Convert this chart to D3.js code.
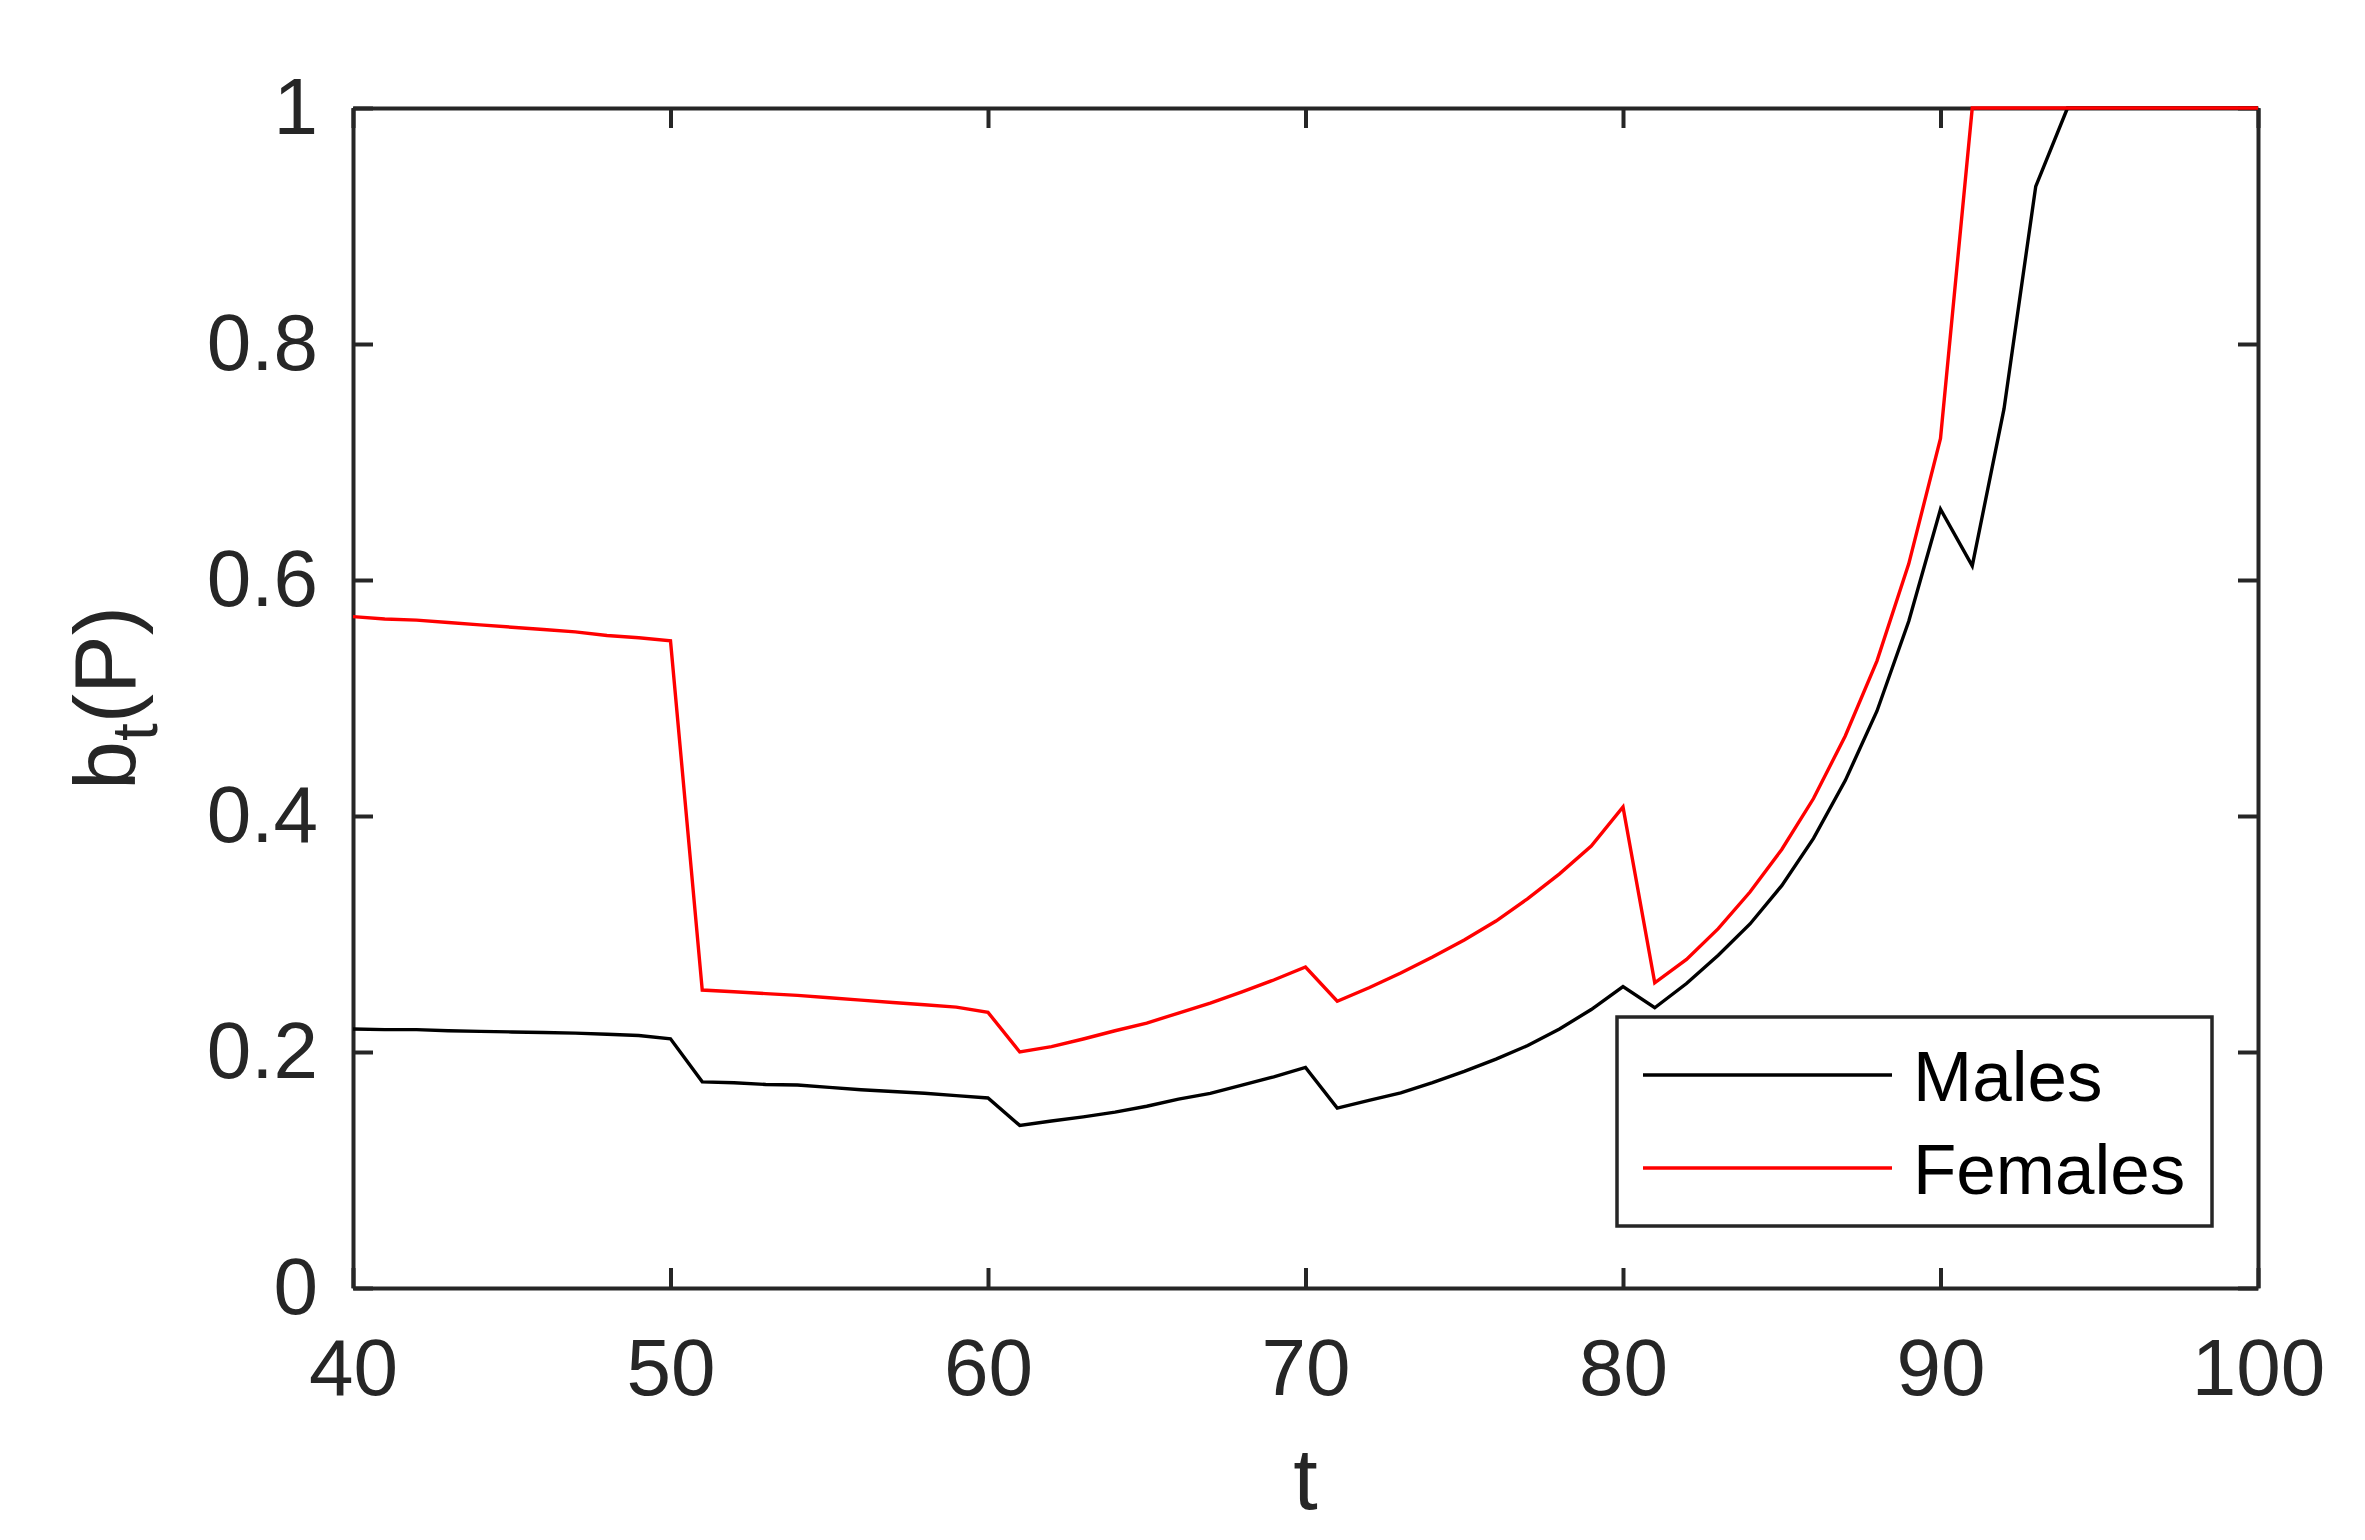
<!DOCTYPE html>
<html>
<head>
<meta charset="utf-8">
<script src="https://cdn.jsdelivr.net/npm/d3@7"></script>
<style>
  body { margin: 0; background: #fff; }
  svg { display: block; font-family: "Liberation Sans", Arial, Helvetica, sans-serif; }
</style>
</head>
<body>
<svg id="chart" width="2365" height="1540"></svg>
<script>
// ages t = 40..100
var ages = [40,41,42,43,44,45,46,47,48,49,50,51,52,53,54,55,56,57,58,59,60,
            61,62,63,64,65,66,67,68,69,70,71,72,73,74,75,76,77,78,79,80,
            81,82,83,84,85,86,87,88,89,90,91,92,93,94,95,96,97,98,99,100];

var males = [0.2195,0.219,0.219,0.218,0.2175,0.217,0.2165,0.216,0.215,0.214,0.2112,
             0.1747,0.174,0.1725,0.172,0.170,0.168,0.1665,0.165,0.163,0.161,
             0.1378,0.1415,0.145,0.149,0.154,0.160,0.165,0.172,0.179,0.1869,
             0.1525,0.159,0.1654,0.174,0.1836,0.194,0.2055,0.2195,0.236,0.2554,
             0.2375,0.258,0.282,0.3085,0.341,0.381,0.430,0.489,0.565,0.660,
             0.612,0.745,0.9336,1,1,1,1,1,1,1];

var females = [0.569,0.567,0.566,0.564,0.562,0.560,0.558,0.556,0.553,0.551,0.5485,
               0.2525,0.251,0.2495,0.248,0.246,0.244,0.242,0.240,0.238,0.2336,
               0.200,0.2045,0.211,0.218,0.2245,0.233,0.2415,0.251,0.261,0.272,
               0.243,0.2545,0.267,0.2805,0.295,0.311,0.330,0.351,0.3745,0.4076,
               0.2586,0.2785,0.3045,0.3356,0.3716,0.4148,0.4678,0.5315,0.6137,0.720,
               1,1,1,1,1,1,1,1,1,1];

var xTicks = [40,50,60,70,80,90,100];
var yTicks = [0,0.2,0.4,0.6,0.8,1];
var seriesNames = ["Males","Females"];
var seriesColors = ["#000000","#ff0000"];

var plotLeft = 353, plotRight = 2258, plotTop = 108, plotBottom = 1288;
var axisColor = "#262626";

var svg = d3.select("#chart");

var x = d3.scaleLinear().domain([40,100]).range([plotLeft,plotRight]);
var y = d3.scaleLinear().domain([0,1]).range([plotBottom,plotTop]);

function styleAxis(g){
    g.attr("font-family",null).attr("font-size",null);
    g.select(".domain").attr("stroke",axisColor).attr("stroke-width",4);
    g.selectAll(".tick line").attr("stroke",axisColor).attr("stroke-width",4);
    g.selectAll(".tick text").attr("fill",axisColor).style("font-size","80px");
}

// bottom axis
svg.append("g").attr("transform","translate(0,"+plotBottom+")")
    .call(d3.axisBottom(x).tickValues(xTicks).tickSizeInner(-20).tickSizeOuter(0).tickPadding(50).tickFormat(d3.format("d")))
    .call(styleAxis);
// top axis
svg.append("g").attr("transform","translate(0,"+plotTop+")")
    .call(d3.axisTop(x).tickValues(xTicks).tickSizeInner(-20).tickSizeOuter(0).tickFormat(""))
    .call(styleAxis);
// left axis
svg.append("g").attr("transform","translate("+plotLeft+",0)")
    .call(d3.axisLeft(y).tickValues(yTicks).tickSizeInner(-20).tickSizeOuter(0).tickPadding(35).tickFormat(d3.format("~g")))
    .call(styleAxis);
// right axis
svg.append("g").attr("transform","translate("+plotRight+",0)")
    .call(d3.axisRight(y).tickValues(yTicks).tickSizeInner(-20).tickSizeOuter(0).tickFormat(""))
    .call(styleAxis);

// lines
var line = d3.line()
    .x(function(d){ return x(d[0]); })
    .y(function(d){ return y(d[1]); });

[males,females].forEach(function(vals,i){
    svg.append("path")
        .datum(ages.map(function(a,k){ return [a,vals[k]]; }))
        .attr("d",line)
        .attr("fill","none")
        .attr("stroke",seriesColors[i])
        .attr("stroke-width",3.4)
        .attr("stroke-linejoin","miter");
});

// axis labels
svg.append("text")
    .attr("x",(plotLeft+plotRight)/2)
    .attr("y",1509)
    .attr("text-anchor","middle")
    .attr("fill",axisColor)
    .style("font-size","88px")
    .text("t");

var ylab = svg.append("text")
    .attr("transform","translate(135,"+((plotTop+plotBottom)/2)+") rotate(-90)")
    .attr("text-anchor","middle")
    .attr("fill",axisColor)
    .style("font-size","88px");
ylab.append("tspan").text("b");
ylab.append("tspan").attr("dy",22).style("font-size","64px").text("t");
ylab.append("tspan").attr("dy",-22).text("(P)");

// legend
var legend = svg.append("g");
legend.append("rect")
    .attr("x",1617).attr("y",1017)
    .attr("width",595).attr("height",209)
    .attr("fill","#fff")
    .attr("stroke",axisColor)
    .attr("stroke-width",3.5);

seriesNames.forEach(function(name,i){
    var ly = 1075 + i*93;
    legend.append("line")
        .attr("x1",1643).attr("x2",1892)
        .attr("y1",ly).attr("y2",ly)
        .attr("stroke",seriesColors[i])
        .attr("stroke-width",3.5);
    legend.append("text")
        .attr("x",1913)
        .attr("y",ly+26)
        .attr("fill","#000")
        .style("font-size","71px")
        .text(name);
});
</script>
</body>
</html>
